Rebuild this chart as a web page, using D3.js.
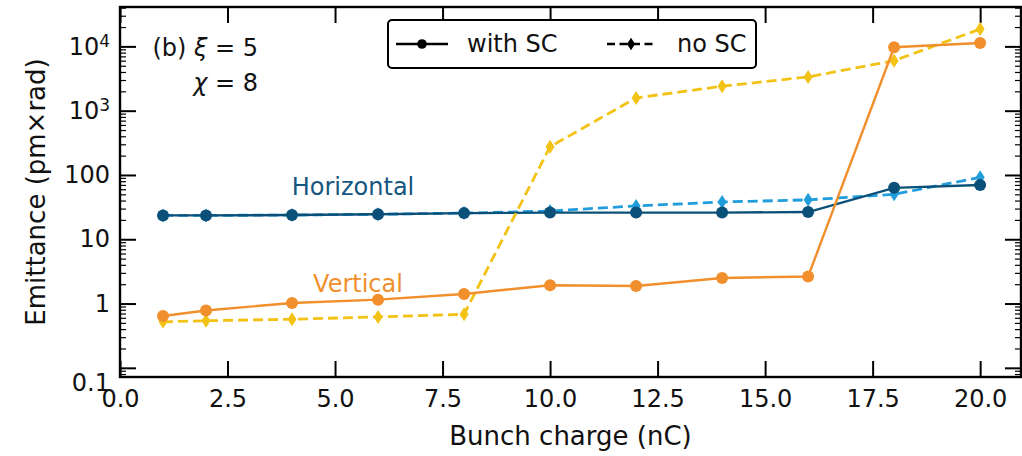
<!DOCTYPE html>
<html>
<head>
<meta charset="utf-8">
<script src="https://cdn.jsdelivr.net/npm/d3@7"></script>
<style>
  body { margin: 0; background: #fff; }
  svg { display: block; font-family: "DejaVu Sans", sans-serif; }
</style>
</head>
<body>
<div id="chart"></div>
<script>
// bunch charge (nC)
const charge = [1, 2, 4, 6, 8, 10, 12, 14, 16, 18, 20];
// emittance (pm x rad)
const horizWithSC = [23.5, 23.5, 23.8, 24.5, 25.5, 26, 26, 26, 26.5, 63, 70];
const horizNoSC = [23.5, 23.5, 23.8, 24.5, 25.5, 27.5, 33, 38, 41, 50, 92];
const vertWithSC = [0.64, 0.78, 1.02, 1.15, 1.41, 1.93, 1.87, 2.5, 2.63, 9700, 11300];
const vertNoSC = [0.52, 0.54, 0.57, 0.62, 0.68, 275, 1580, 2400, 3350, 6000, 18600];

const xTicks = [0, 2.5, 5, 7.5, 10, 12.5, 15, 17.5, 20];
const yTicks = [0.1, 1, 10, 100, 1000, 10000];

const width = 1022, height = 456;
const margin = { top: 7, right: 1, left: 120, bottom: 79 };

const svg = d3.select("#chart").append("svg")
  .attr("width", width)
  .attr("height", height);

const x = d3.scaleLinear().domain([0, 20.95]).range([margin.left, width - margin.right]);
const y = d3.scaleLog().domain([0.072, 41000]).range([height - margin.bottom, margin.top]);

const x0 = x.range()[0], x1 = x.range()[1];
const y0 = y.range()[0], y1 = y.range()[1];

// minor ticks for the log axis
const minorTicks = [];
for (let e = -2; e <= 4; e++) {
  for (let m = 2; m <= 9; m++) {
    const v = m * Math.pow(10, e);
    if (v > y.domain()[0] && v < y.domain()[1]) minorTicks.push(v);
  }
}

function fmtY(sel) {
  sel.each(function (d) {
    const t = d3.select(this);
    t.text(null);
    if (d >= 1000) {
      t.append("tspan").text("10");
      t.append("tspan").attr("dy", "-0.45em").attr("font-size", "17px").text(Math.round(Math.log10(d)));
    } else {
      t.text(d < 1 ? "0.1" : d);
    }
  });
}

// axes
const gx = svg.append("g").attr("transform", `translate(0,${y0})`)
  .call(d3.axisBottom(x).tickValues(xTicks).tickFormat(d3.format(".1f")).tickSize(-16).tickPadding(13));
const gxTop = svg.append("g").attr("transform", `translate(0,${y1})`)
  .call(d3.axisTop(x).tickValues(xTicks).tickFormat("").tickSize(-16));

const gy = svg.append("g").attr("transform", `translate(${x0},0)`)
  .call(d3.axisLeft(y).tickValues(yTicks).tickSize(-16).tickPadding(10));
gy.selectAll(".tick text").call(fmtY);
gy.selectAll(".tick text").filter((d) => d === 0.1).attr("dy", "0.95em");

const gyMinor = svg.append("g").attr("transform", `translate(${x0},0)`)
  .call(d3.axisLeft(y).tickValues(minorTicks).tickFormat("").tickSize(-6));
const gyRight = svg.append("g").attr("transform", `translate(${x1},0)`)
  .call(d3.axisRight(y).tickValues(yTicks).tickFormat("").tickSize(-16));
const gyRightMinor = svg.append("g").attr("transform", `translate(${x1},0)`)
  .call(d3.axisRight(y).tickValues(minorTicks).tickFormat("").tickSize(-6));

[gx, gxTop, gy, gyMinor, gyRight, gyRightMinor].forEach((g) => {
  g.select(".domain").remove();
  g.selectAll(".tick line").attr("stroke", "#000").attr("stroke-width", 2);
  g.selectAll(".tick text").attr("font-size", "24px").attr("fill", "#111")
    .attr("font-family", "DejaVu Sans, sans-serif");
});
gyMinor.selectAll(".tick line").attr("stroke-width", 1.2);
gyRightMinor.selectAll(".tick line").attr("stroke-width", 1.2);

// frame
svg.append("rect")
  .attr("x", x0).attr("y", y1)
  .attr("width", x1 - x0).attr("height", y0 - y1)
  .attr("fill", "none").attr("stroke", "#000").attr("stroke-width", 2.4);

// axis labels
svg.append("text")
  .attr("x", (x0 + x1) / 2).attr("y", 445)
  .attr("text-anchor", "middle").attr("font-size", "26px").attr("fill", "#111")
  .text("Bunch charge (nC)");
svg.append("text")
  .attr("transform", `translate(45,${(y0 + y1) / 2}) rotate(-90)`)
  .attr("text-anchor", "middle").attr("font-size", "26px").attr("fill", "#111")
  .text("Emittance (pm×rad)");

// series
const diamond = "M0,-7L4.5,0L0,7L-4.5,0Z";
const series = [
  { values: horizNoSC, color: "#229ddb", dash: "10,5", width: 2.8, marker: "diamond" },
  { values: horizWithSC, color: "#0b5079", dash: null, width: 2.4, marker: "circle" },
  { values: vertNoSC, color: "#f2c214", dash: "10,5", width: 2.8, marker: "diamond" },
  { values: vertWithSC, color: "#f08f2c", dash: null, width: 2.4, marker: "circle" },
];

const line = d3.line().x((d) => x(d[0])).y((d) => y(d[1]));

series.forEach((s) => {
  const pts = charge.map((c, i) => [c, s.values[i]]);
  const g = svg.append("g");
  g.append("path")
    .attr("d", line(pts))
    .attr("fill", "none")
    .attr("stroke", s.color)
    .attr("stroke-width", s.width)
    .attr("stroke-dasharray", s.dash);
  if (s.marker === "circle") {
    g.selectAll("circle").data(pts).join("circle")
      .attr("cx", (d) => x(d[0])).attr("cy", (d) => y(d[1]))
      .attr("r", 6).attr("fill", s.color);
  } else {
    g.selectAll("path.m").data(pts).join("path")
      .attr("class", "m")
      .attr("d", diamond)
      .attr("transform", (d) => `translate(${x(d[0])},${y(d[1])})`)
      .attr("fill", s.color);
  }
});

// curve labels
svg.append("text").attr("x", 353).attr("y", 195).attr("text-anchor", "middle")
  .attr("font-size", "24px").attr("fill", "#14567f").text("Horizontal");
svg.append("text").attr("x", 358).attr("y", 292).attr("text-anchor", "middle")
  .attr("font-size", "24px").attr("fill", "#f08f2c").text("Vertical");

// annotation
const ann = svg.append("g").attr("font-size", "24px").attr("fill", "#111");
const a1 = ann.append("text").attr("x", 258).attr("y", 56).attr("text-anchor", "end");
a1.append("tspan").text("(b) ");
a1.append("tspan").attr("font-style", "italic").text("ξ");
a1.append("tspan").text(" = 5");
const a2 = ann.append("text").attr("x", 258).attr("y", 91).attr("text-anchor", "end");
a2.append("tspan").attr("font-style", "italic").text("χ");
a2.append("tspan").text(" = 8");

// legend
const leg = svg.append("g");
leg.append("rect")
  .attr("x", 388).attr("y", 20).attr("width", 368).attr("height", 48)
  .attr("rx", 4).attr("fill", "#fff").attr("stroke", "#000").attr("stroke-width", 2);
leg.append("line").attr("x1", 396).attr("x2", 448).attr("y1", 44).attr("y2", 44)
  .attr("stroke", "#000").attr("stroke-width", 2.4);
leg.append("circle").attr("cx", 422).attr("cy", 44).attr("r", 4.8).attr("fill", "#000");
leg.append("text").attr("x", 467).attr("y", 52).attr("font-size", "24px").attr("fill", "#111").text("with SC");
leg.append("line").attr("x1", 607).attr("x2", 655).attr("y1", 44).attr("y2", 44)
  .attr("stroke", "#000").attr("stroke-width", 2.4).attr("stroke-dasharray", "8,4.5");
leg.append("path").attr("d", diamond).attr("transform", "translate(631,44) scale(0.9)").attr("fill", "#000");
leg.append("text").attr("x", 677).attr("y", 52).attr("font-size", "24px").attr("fill", "#111").text("no SC");
</script>
</body>
</html>
